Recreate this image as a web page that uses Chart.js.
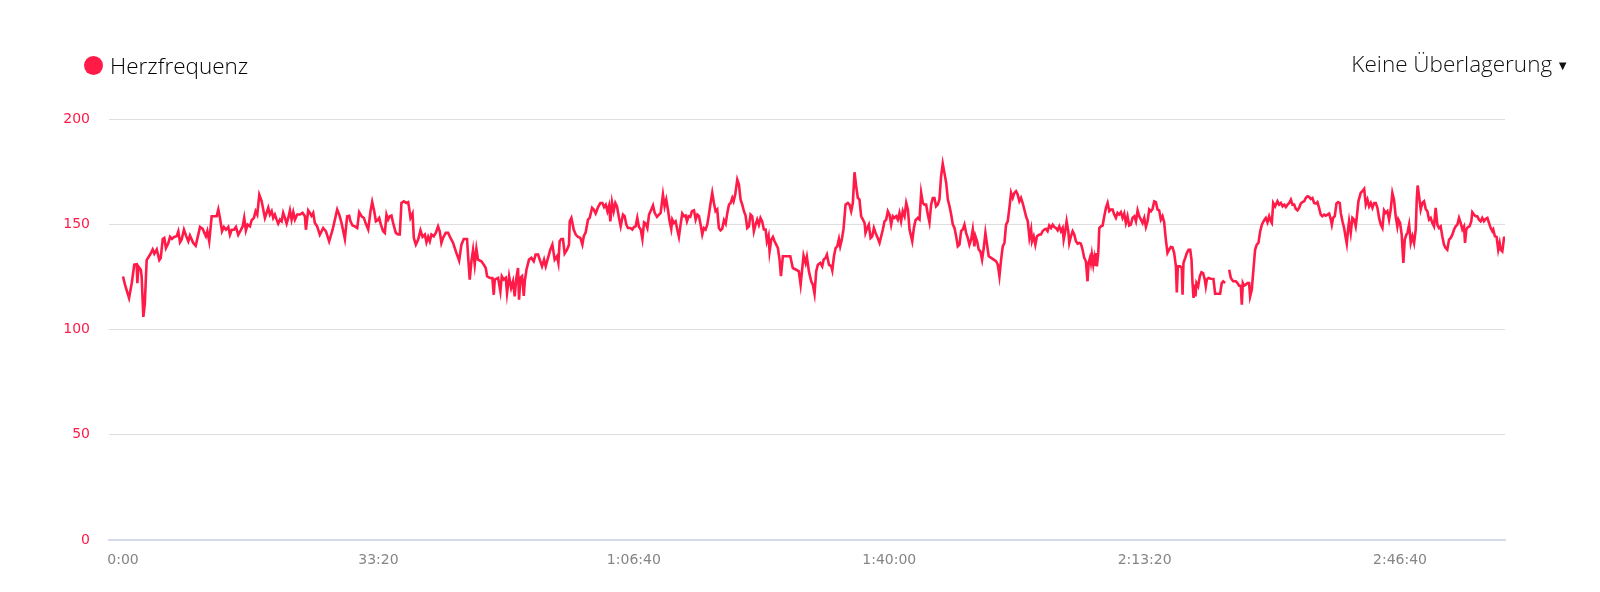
<!DOCTYPE html>
<html lang="de">
<head>
<meta charset="utf-8">
<title>Herzfrequenz</title>
<script src="https://cdn.jsdelivr.net/npm/chart.js@4.4.1/dist/chart.umd.min.js"></script>
<style>
  body { margin: 0; background: #fff; }
  .wrap { position: relative; width: 1600px; height: 592px; }
  .legend {
    position: absolute; left: 84px; top: 50px;
    font-family: "Open Sans", sans-serif; font-weight: 300; font-size: 22.5px; color: #000;
    display: flex; align-items: center;
  }
  .legend .dot {
    width: 19px; height: 19px; border-radius: 50%; background: #ff1a48; margin-right: 7px;
  }
  .overlay {
    position: absolute; right: 31px; top: 48px;
    font-family: "Open Sans", sans-serif; font-weight: 300; font-size: 22.5px; color: #111;
  }
  .overlay span { font-size: 13px; margin-left: 4px; position: relative; top: -2px; }
</style>
</head>
<body>
<div class="wrap">
  <canvas class="js-chart" width="1600" height="592"></canvas>
  <div class="legend"><div class="dot"></div>Herzfrequenz</div>
  <div class="overlay">Keine Überlagerung<span>▼</span></div>
</div>
<script>
const ctx = document.querySelector(".js-chart").getContext("2d");
const HR_COLOR = "#ff1a48";

// elapsed seconds
const times = [
  0, 15, 47, 68, 88, 107, 112, 120, 139, 146, 159, 170, 185, 211, 232, 245, 264, 284, 295, 311,
  323, 336, 354, 368, 383, 401, 420, 433, 446, 459, 477, 493, 511, 524, 538, 550, 569, 585, 603, 624,
  636, 649, 660, 675, 694, 712, 733, 746, 759, 775, 790, 806, 824, 837, 851, 869, 884, 902, 921, 937,
  949, 962, 976, 994, 1007, 1025, 1038, 1051, 1067, 1085, 1098, 1111, 1124, 1137, 1150, 1164, 1176, 1189, 1203, 1215,
  1229, 1242, 1254, 1268, 1281, 1294, 1307, 1320, 1333, 1346, 1364, 1385, 1406, 1424, 1432, 1450, 1463, 1476, 1489, 1502,
  1520, 1541, 1567, 1589, 1614, 1641, 1659, 1677, 1693, 1711, 1737, 1755, 1771,
  1781, 1797, 1815, 1834, 1849, 1868, 1886, 1901, 1920, 1938, 1951, 1967, 1980, 1993, 2006, 2019, 2037, 2050, 2063, 2076,
  2089, 2102, 2115, 2136, 2154, 2167, 2180, 2199, 2220, 2233, 2240, 2251, 2267, 2277, 2293, 2311, 2329, 2345, 2363, 2376,
  2389, 2402, 2415, 2433, 2449, 2467, 2480, 2493, 2506, 2527, 2546, 2564, 2585, 2606, 2632, 2650, 2668, 2694, 2702, 2715,
  2728, 2741, 2754, 2767, 2780, 2806, 2825, 2840, 2851, 2872, 2892, 2903, 2911, 2937, 2955, 2966, 2981, 2997, 3007, 3023,
  3039, 3054, 3067, 3080, 3093, 3101, 3112, 3125, 3138, 3146, 3159, 3179, 3198, 3216, 3231, 3250, 3263, 3281, 3297, 3310,
  3328, 3346, 3362, 3380, 3398, 3409, 3419, 3432, 3445, 3458, 3477, 3492,
  3498, 3511, 3529, 3545, 3563, 3581, 3597, 3608, 3623, 3641, 3654, 3673, 3686, 3701, 3720, 3738, 3754, 3767, 3780, 3793,
  3806, 3816, 3829, 3842, 3855, 3868, 3884, 3897, 3915, 3928, 3941, 3954, 3973, 3988, 4001, 4014, 4027, 4040, 4054, 4067,
  4080, 4093, 4106, 4119, 4137, 4150, 4163, 4181, 4197, 4210, 4228, 4241, 4254, 4267, 4280, 4293, 4301, 4314, 4327, 4340,
  4353, 4366, 4379, 4393, 4406, 4416, 4429, 4442, 4455, 4471, 4484, 4497, 4510, 4523, 4536, 4549, 4562, 4575, 4588, 4601,
  4614, 4627, 4640, 4653, 4666, 4679, 4692, 4706, 4719, 4732, 4745, 4758, 4771, 4781, 4794, 4810, 4823, 4836, 4849, 4862,
  4875, 4888, 4901, 4914, 4927, 4940, 4953, 4966, 4979, 4992, 5005, 5018, 5032, 5042, 5055, 5063, 5076, 5089, 5102, 5115,
  5128, 5141, 5152, 5167, 5193, 5225, 5245, 5271, 5292,
  5306, 5329, 5345, 5355, 5371, 5389, 5402, 5415, 5428, 5441, 5460, 5475, 5486, 5501, 5512, 5528, 5546, 5554, 5567, 5580,
  5593, 5606, 5616, 5629, 5642, 5658, 5676, 5689, 5702, 5715, 5728, 5741, 5754, 5767, 5780, 5794, 5807, 5814, 5827, 5840,
  5854, 5867, 5880, 5893, 5906, 5924, 5937, 5950, 5963, 5976, 5989, 6002, 6015, 6028, 6041, 6054, 6067, 6080, 6093, 6106,
  6120, 6133, 6146, 6159, 6180, 6193, 6206, 6224, 6237, 6250, 6263, 6276, 6289, 6302, 6315, 6328, 6341, 6354, 6367, 6380,
  6393, 6406, 6419, 6432, 6446, 6459, 6472, 6485, 6498, 6511, 6524, 6537, 6550, 6563, 6576, 6589, 6602, 6615, 6628, 6641,
  6654, 6667, 6675, 6688, 6701, 6714, 6727, 6740, 6753, 6766, 6779, 6798, 6818, 6837, 6850, 6863, 6876, 6889, 6902, 6915,
  6928, 6941, 6954, 6967, 6980, 6993, 7006, 7019, 7032, 7045, 7058, 7071, 7085, 7098, 7111, 7118, 7131, 7144, 7157, 7176,
  7188, 7201, 7214, 7227, 7240, 7253, 7267, 7280, 7293, 7306, 7319, 7332, 7345, 7358, 7366, 7376, 7389, 7402, 7410, 7423,
  7436, 7449, 7462, 7475, 7488, 7501, 7514, 7527, 7540, 7553, 7561, 7572, 7579, 7587, 7598, 7606, 7613, 7619, 7626, 7637,
  7645, 7658, 7671, 7684, 7697, 7710, 7723, 7736, 7749, 7762, 7775, 7788, 7801, 7814, 7827, 7840, 7853, 7866, 7879, 7892,
  7905, 7919, 7932, 7945, 7958, 7971, 7984, 7997, 8010, 8023, 8036, 8049, 8062, 8075, 8088, 8101, 8114, 8127, 8140, 8153,
  8166, 8179, 8192, 8205, 8218, 8231, 8245, 8252, 8260, 8278, 8291, 8297, 8304, 8318, 8331, 8344, 8357, 8367, 8375, 8383,
  8391, 8398, 8406, 8419, 8432, 8445, 8458, 8471, 8479, 8487, 8500, 8518, 8539, 8552, 8570, 8591, 8604, 8615, 8630, 8645,
  8662, 8675, 8693, 8714, 8727, 8740, 8753, 8761, 8769, 8779, 8792, 8805, 8818, 8826, 8839, 8852, 8865, 8878, 8891,
  8905, 8918, 8936, 8949, 8962, 8975, 8988, 8996, 9007, 9022, 9040, 9053, 9067, 9080, 9093, 9106, 9119, 9132, 9145, 9158,
  9171, 9184, 9197, 9210, 9223, 9236, 9249, 9262, 9275, 9288, 9301, 9314, 9327, 9340, 9353, 9366, 9379, 9392, 9406, 9419,
  9432, 9445, 9458, 9466, 9476, 9489, 9502, 9515, 9528, 9536, 9549, 9562, 9575, 9583, 9593, 9601, 9614, 9627, 9640, 9653,
  9661, 9674, 9692, 9705, 9719, 9732, 9745, 9758, 9771, 9784, 9797, 9810, 9823, 9836, 9849, 9862, 9875, 9888, 9901, 9914,
  9927, 9940, 9953, 9966, 9979, 9987, 10000, 10013, 10026, 10037, 10050, 10058, 10071, 10084, 10097, 10110, 10123, 10131, 10138, 10149,
  10162, 10175, 10188, 10201, 10214, 10227, 10240, 10253, 10266, 10279, 10292, 10305, 10318, 10331, 10344, 10357, 10370, 10384, 10397, 10410,
  10423, 10436, 10449, 10462, 10475, 10488, 10501, 10509, 10519, 10532, 10545, 10558, 10566, 10579, 10592, 10605, 10618, 10631, 10644, 10657,
  10670, 10684, 10697, 10710, 10723, 10730, 10743, 10756, 10769, 10780, 10788, 10801, 10814, 10822
];

// beats per minute, null = no signal
const heartRate = [
  125.2, 121.3, 115, 122, 130.8, 131, 122, 130, 128.4, 125, 106, 111.8, 133, 135.5, 138, 136, 138, 133, 134, 143,
  143.5, 138.7, 141, 144, 143, 144, 144.3, 146.6, 141.4, 142.7, 147.4, 144.6, 141.9, 144.6, 142.7, 141.1, 139.8, 144, 148.7, 147.8,
  146, 144.3, 146.7, 141.9, 153.8, 153.8, 153.8, 157, 153, 146.7, 148.7, 147.4, 148.7, 145, 147.4, 147.4, 148.7, 145, 147.1, 149,
  153, 147, 149.8, 149, 151.9, 153, 156.2, 154.6, 164, 161, 157, 153, 155.4, 157.8, 154.6, 156.2, 153, 154.6, 152.2, 150.3,
  152.2, 151.4, 155.4, 153, 150.3, 153, 156.6, 152.2, 155.7, 152.2, 154.6, 154.6, 155.4, 153.8, 147.4, 156.6, 155.4, 154, 155.4, 150.6,
  149, 145, 148.2, 146.6, 141.9, 147.4, 152.2, 157, 154.6, 150.6, 143, 153.8, 154,
  151.4, 149.4, 149, 148.2, 155.7, 153.8, 153, 150.3, 147.5, 156.2, 160.6, 156.2, 151.4, 151.9, 153, 149.8, 146.7, 145.9, 154.6, 152.2,
  153.8, 154.1, 150.6, 145.9, 145.1, 145.1, 160.1, 160.9, 160.1, 160.5, 157.8, 153, 155.1, 143.5, 140.3, 142.7, 147.1, 144, 145.1, 141.4,
  144, 141.9, 145.1, 144.3, 145.9, 149, 146.7, 141.1, 143.5, 145.9, 145.9, 143.5, 141.1, 137.1, 132.7, 140.3, 143, 143, 134.8, 123.7,
  132.4, 137.9, 130.8, 138.3, 133.2, 132.4, 130.8, 129.2, 125.3, 124.5, 124.5, 116.5, 123.7, 124.5, 118.1, 125.3, 123.7, 124.5, 117.3, 125.3,
  119.7, 122.9, 115.7, 124.5, 129.2, 114.2, 124.5, 125.3, 116, 122.9, 128.4, 133.2, 134, 132.4, 135.6, 135.6, 133.2, 130, 133.2, 130,
  134, 137.9, 140.3, 133.2, 134.8, 131.6, 141.9, 143, 143, 136.1, 137.9, 140.3,
  151.4, 153, 147.5, 145.1, 144, 143.5, 140.3, 144.3, 146.2, 152.2, 153, 157.8, 157, 155.1, 158.2, 160.1, 160.1, 158.2, 159.3, 156.2,
  158.9, 151.4, 160.4, 156.2, 160.1, 158.5, 153, 149, 154.6, 153.8, 149.8, 148.2, 148.2, 147.5, 148.7, 149, 153, 148.7, 147.5, 143,
  150.9, 150.3, 148.2, 154.6, 157, 158.9, 155.4, 153.5, 154.6, 155.4, 164.1, 158.5, 161.7, 157, 151.4, 147.8, 152.2, 150.6, 151.4, 147.5,
  144, 149.8, 155.1, 153.8, 154.1, 151.4, 153.8, 153.5, 156.2, 156.6, 152.2, 154.6, 153.8, 149.8, 145.1, 148.2, 147.5, 149.8, 154.6, 160.1,
  164.9, 160.1, 156.2, 157, 148.2, 147.1, 147.8, 151.9, 150.3, 155.4, 159.3, 160.1, 162.5, 160.9, 164.1, 171.2, 168.9, 161.7, 159.3, 156.2,
  154.1, 148.2, 149, 154.6, 153.8, 146.7, 149.8, 152.2, 149.8, 153, 151.4, 147.5, 147.5, 141.9, 144.6, 137.1, 142.7, 144, 141.9, 140.3,
  138.7, 133.2, 125.3, 134.8, 134.8, 134.8, 129.2, 128.4, 127.6,
  121.3, 135.1, 131.6, 134.5, 127.6, 122.9, 121.3, 117, 127.6, 130.8, 131.6, 130, 133.2, 134, 135.6, 130.8, 130, 128.1, 134.8, 138.7,
  139.5, 143, 139.5, 142.7, 147.8, 159.3, 160.1, 159.3, 156.2, 160.1, 174.7, 168.1, 162.5, 161.7, 153.8, 152.2, 150.6, 145.9, 148.2, 149.8,
  143.5, 144.3, 148.2, 145.9, 144, 141.1, 144.3, 147.5, 151.4, 152.2, 156.2, 154.6, 149.8, 153.8, 153, 153.8, 152.2, 155.4, 151.4, 156.2,
  153.8, 160.1, 157, 147.5, 141.9, 148.2, 151.9, 153, 152.2, 164.9, 160.1, 159.3, 159.3, 154.6, 150.9, 159.3, 162.5, 162.5, 158.5, 159.3,
  161.7, 172.8, 178.8, 174.4, 169.6, 161.7, 158.5, 154.6, 149.8, 148.2, 144.3, 139.5, 140.3, 146.7, 147.5, 149.8, 145.9, 143.5, 140.3, 142.7,
  147.5, 139.5, 144.3, 141.9, 137.9, 137.1, 133.2, 138.7, 145.9, 140.3, 134.8, 134, 133.2, 132.4, 130.8, 125.3, 133.2, 139.5, 141.1, 149.8,
  151.4, 157.8, 164.9, 162.5, 164.9, 165.7, 164.1, 160.9, 162.5, 160.1, 157, 153.8, 151.4, 143.5, 147.5, 141.9, 144.3, 140.3, 144.3, 145.1,
  145.1, 146.7, 147.5, 147.8, 146.7, 149.4, 148.2, 149.8, 148.7, 148.2, 147.1, 149, 146.7, 148.2, 142.7, 145.9, 151.4, 146.7, 141.1, 144.3,
  146.7, 145.1, 141.9, 140.8, 141.1, 140.8, 137.9, 134, 132.4, 122.9, 131.6, 134, 131.6, 135.6, 130.8, 134, 130.8, 136.4, 130, 136.4,
  148.2, 149, 149.4, 153.8, 157.8, 160.1, 156.2, 157, 157, 154.6, 153, 155.4, 154.6, 155.7, 153, 155.1, 150.6, 153.8, 149.4, 149.8,
  153, 153.8, 151.4, 156.6, 153.8, 152.2, 150.6, 153, 148.7, 151.4, 157, 156.2, 157.3, 160.9, 160.5, 157, 156.6, 152.2, 153.8, 150.9,
  142.7, 136.4, 137.9, 139.2, 139, 136.4, 130, 117.6, 130, 130, 129.2, 116.5, 131.6, 134, 136.4, 137.9, 137.9, 133.2, 122.1, 115,
  121.3, 115.7, 122.1, 120.5, 125.3, 127.2, 126.8, 123.7, 120.5, 123.7, 124.5, 124.1, 124, 117, 117, 117, 122.1, 122.9, 122.1, null,
  128.4, 124.5, 122.9, 122.9, 122.1, 120.8, 120.8, 111.8, 122.1, 120.8, 121.3, 122.1, 122.1, 115.7, 118.9, 128.4, 137.9, 140.3, 141.1,
  146.7, 149.8, 151.9, 153, 150.9, 153.8, 151.4, 150.6, 160.1, 158.5, 160.9, 159.3, 160.1, 158.5, 159.3, 158.2, 159.3, 160.1, 161.7, 159.3,
  159.3, 157.3, 156.6, 157.8, 159.8, 160.5, 160.9, 162.5, 163.3, 163, 162, 162.5, 160.1, 159.8, 160.5, 157.8, 154.6, 153.8, 154.6, 154.1,
  154.6, 155.1, 152.2, 149.8, 153, 153.8, 159.8, 160.5, 160.1, 155.4, 151.4, 148.2, 143.5, 140.8, 147.5, 151.4, 145.9, 153, 152.2, 149,
  153, 160.9, 164.9, 165.7, 166.8, 159.3, 161.7, 158.5, 160.1, 157.8, 160.1, 160.1, 157.8, 153, 149.8, 148.2, 156.6, 155.4, 156.2, 152.2,
  157, 164.9, 161.7, 153.8, 149, 152.2, 150.6, 145.1, 131.6, 142.7, 145.1, 145.9, 149.8, 141.1, 144.3, 141.1, 147.5, 161.7, 168.4, 163.3,
  157, 160.1, 160.9, 157.3, 156.2, 152.2, 153, 150.6, 149, 157.8, 149.8, 148.2, 149, 144.3, 140.3, 138.7, 137.9, 142.7, 143.5, 145.1,
  147.5, 149, 149.8, 153, 150.6, 147.5, 149, 141.1, 147.5, 148.7, 149, 151.4, 155.7, 154.6, 153.8, 153.8, 152.2, 151.4, 153, 151.4,
  152.5, 153, 150.6, 148.2, 146.7, 147.5, 144.3, 144, 137.9, 141.1, 137.9, 137.1, 143.5, 144
];

const xTicks = [0, 2000, 4000, 6000, 8000, 10000];
const xTickLabels = ["0:00", "33:20", "1:06:40", "1:40:00", "2:13:20", "2:46:40"];
const yTicks = [0, 50, 100, 150, 200];

const points = times.map((t, i) => ({ x: t, y: heartRate[i] }));

new Chart(ctx, {
  type: "line",
  data: {
    datasets: [
      {
        label: "Herzfrequenz",
        data: points,
        borderColor: HR_COLOR,
        backgroundColor: HR_COLOR,
        borderWidth: 2.6,
        pointRadius: 0,
        tension: 0,
        spanGaps: false,
        fill: false,
      },
    ],
  },
  options: {
    responsive: false,
    animation: false,
    devicePixelRatio: 1,
    layout: { padding: { top: 119, right: 95, left: 0, bottom: 0 } },
    plugins: { legend: { display: false }, tooltip: { enabled: false } },
    scales: {
      x: {
        type: "linear",
        min: -110,
        max: 10822,
        afterBuildTicks(scale) {
          scale.ticks = xTicks.map((v) => ({ value: v }));
        },
        afterFit(scale) {
          scale.height = 52;
        },
        grid: { display: false, drawTicks: false },
        border: { display: true, color: "#d6dbeb", width: 2 },
        ticks: {
          autoSkip: false,
          maxRotation: 0,
          padding: 12,
          color: "#858585",
          font: { family: "DejaVu Sans", size: 14 },
          callback(value) {
            const i = xTicks.indexOf(value);
            return i >= 0 ? xTickLabels[i] : "";
          },
        },
      },
      y: {
        min: 0,
        max: 200,
        afterBuildTicks(scale) {
          scale.ticks = yTicks.map((v) => ({ value: v }));
        },
        afterFit(scale) {
          scale.width = 109;
        },
        grid: { color: "#dedede", lineWidth: 1, drawTicks: false },
        border: { display: false },
        ticks: {
          padding: 19,
          color: HR_COLOR,
          font: { family: "DejaVu Sans", size: 14 },
        },
      },
    },
  },
});
</script>
</body>
</html>
